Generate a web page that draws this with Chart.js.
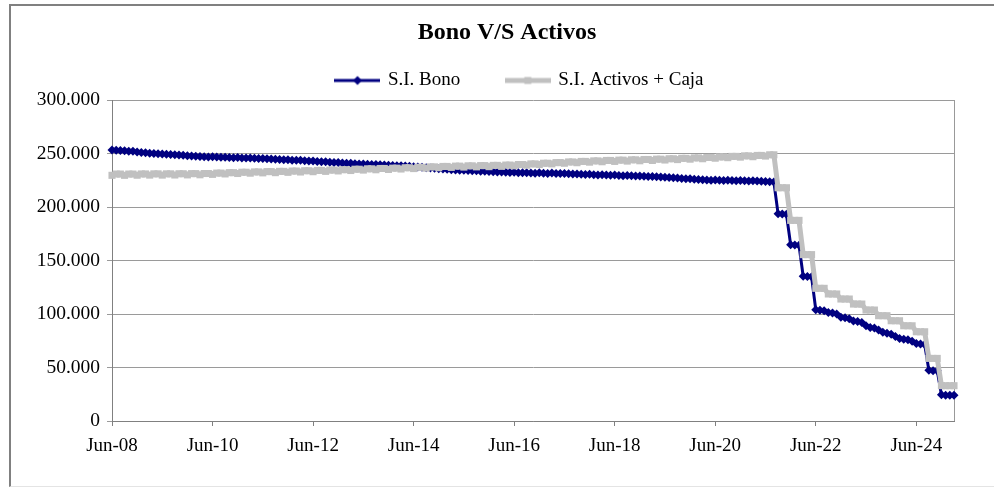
<!DOCTYPE html>
<html>
<head>
<meta charset="utf-8">
<script src="https://cdn.jsdelivr.net/npm/chart.js@4.4.1/dist/chart.umd.min.js"></script>
<style>
  html, body { margin: 0; padding: 0; background: #ffffff; overflow: hidden; }
  #wrap { position: relative; width: 994px; height: 487px; }
  #c { position: absolute; left: 0; top: 0; }
  #frame { position: absolute; left: 9px; top: 4px; width: 983px; height: 480px;
           border-left: 2px solid #808080; border-top: 2px solid #808080;
           border-bottom: 1px solid #e4e4e4; pointer-events: none; }
</style>
</head>
<body>
<div id="wrap">
  <canvas id="c" width="994" height="487"></canvas>
  <div id="frame"></div>
</div>
<script>
// ---------------- data ----------------
const TITLE = 'Bono V/S Activos';
const SERIES_NAMES = ['S.I. Bono', 'S.I. Activos + Caja'];
const TICK_LABELS = ['Jun-08', 'Jun-10', 'Jun-12', 'Jun-14', 'Jun-16', 'Jun-18', 'Jun-20', 'Jun-22', 'Jun-24'];
const Y_TICKS = [0, 50000, 100000, 150000, 200000, 250000, 300000];

// monthly categories Jun-08 .. Mar-25
const MONTH_NAMES = ['Jan','Feb','Mar','Apr','May','Jun','Jul','Aug','Sep','Oct','Nov','Dec'];
const CATEGORIES = [];
for (let y = 2008, m = 5; y < 2025 || (y === 2025 && m <= 2); ) {
  CATEGORIES.push(MONTH_NAMES[m] + '-' + String(y % 100).padStart(2, '0'));
  m++; if (m === 12) { m = 0; y++; }
}

const BONO = [
  253300,253000,252800, 252500,252200,252000, 251300,251000,250800, 250300,250000,249800,
  249600,249300,249100, 248800,248500,248300, 248000,247700,247500, 247300,247000,246800,
  247000,246700,246500, 246600,246300,246100, 246200,245900,245700, 245800,245500,245300,
  245300,245000,244800, 244700,244400,244200, 244100,243800,243600, 243600,243300,243100,
  242900,242600,242400, 242200,241900,241700, 241500,241200,241000, 240800,240500,240300,
  240300,240000,239800, 239700,239400,239200, 239100,238800,238600, 238600,238300,238100,
  237700,237400,237200, 236700,236400,236200, 235700,235400,235200, 234900,234600,234400,
  234300,234000,233800, 233800,233500,233300, 233200,232900,232700, 232700,232400,232200,
  232400,232100,231900, 232100,231800,231600, 231900,231600,231400, 231700,231400,231200,
  231300,231000,230800, 230900,230600,230400, 230500,230200,230000, 230200,229900,229700,
  229800,229500,229300, 229400,229100,228900, 229000,228700,228500, 228600,228300,228100,
  227800,227500,227300, 227000,226700,226500, 226300,226000,225800, 225500,225200,225000,
  225300,225000,224800, 225100,224800,224600, 224800,224500,224300, 224600,224300,224100,
  223800,223500,223300,
  193800,193500,193200, 164800,164500,164200, 135300,135000,134700,
  104000,103500,103000, 101500,101000,100000, 97000,96500,95500, 93500,93000,92000,
  89000,87500,87000, 85000,83000,82000, 81000,79000,77000, 76500,76000,74500,
  72500,72000,71500, 47500,47000,47000, 24500,24000,24000,24000
];

const ACTIVOS = [
  229600,230800,230800, 229600,230800,230800, 229700,230900,230900, 229800,231000,231000,
  229800,231000,231000, 229900,231100,231100, 230000,231200,231200, 230100,231300,231300,
  230500,231700,231700, 230900,232100,232100, 231300,232500,232500, 231600,232800,232800,
  231900,233100,233100, 232100,233300,233300, 232400,233600,233600, 232700,233900,233900,
  233000,234200,234200, 233300,234500,234500, 233700,234900,234900, 234100,235300,235300,
  234500,235700,235700, 234800,236000,236000, 235100,236300,236300, 235500,236700,236700,
  235900,237100,237100, 236300,237500,237500, 236700,237900,237900, 237000,238200,238200,
  237300,238500,238500, 237500,238700,238700, 237700,238900,238900, 238000,239200,239200,
  238500,239700,239700, 239100,240300,240300, 239700,240900,240900, 240300,241500,241500,
  240900,242100,242100, 241400,242600,242600, 241900,243100,243100, 242300,243500,243500,
  242600,243800,243800, 242900,244100,244100, 243200,244400,244400, 243500,244700,244700,
  243900,245100,245100, 244300,245500,245500, 244700,245900,245900, 245100,246300,246300,
  245600,246800,246800, 246100,247300,247300, 246600,247800,247800, 247000,248200,248200,
  247600,248800,248800,
  218000,218000,218000, 187500,187500,187500, 155500,155500,155500,
  124000,124000,124000, 118700,118700,118700, 114000,114000,114000, 109300,109300,109300,
  103700,103700,103700, 98400,98400,98400, 93700,93700,93700, 89000,89000,89000,
  83400,83400,83400, 58500,58500,58500, 33000,33000,33000,33000
];

// ---------------- styling ----------------
const FONT = "'Liberation Serif', 'Times New Roman', serif";
const BLUE = '#000080';
const GREY = '#C0C0C0';

function legendIcon(color, lineW, marker) {
  const cv = document.createElement('canvas');
  cv.width = 46; cv.height = 12;
  const g = cv.getContext('2d');
  g.fillStyle = color;
  g.fillRect(0, 6 - lineW / 2, 46, lineW);
  g.beginPath();
  if (marker === 'diamond') {
    g.moveTo(23, 1.5); g.lineTo(27.5, 6); g.lineTo(23, 10.5); g.lineTo(18.5, 6);
  } else {
    g.rect(19.5, 2.5, 7, 7);
  }
  g.closePath(); g.fill();
  return cv;
}
const ICONS = [legendIcon(BLUE, 3, 'diamond'), legendIcon(GREY, 5, 'square')];

const fmt = v => String(v).replace(/\B(?=(\d{3})+(?!\d))/g, '.');

const plotBorder = {
  id: 'plotBorder',
  beforeDatasetsDraw(chart) {
    const { ctx, chartArea: a } = chart;
    ctx.save();
    ctx.strokeStyle = '#999999';
    ctx.lineWidth = 1;
    ctx.beginPath();
    const x = Math.round(a.right) + 0.5;
    ctx.moveTo(x, a.top); ctx.lineTo(x, a.bottom);
    ctx.stroke();
    ctx.restore();
  }
};
const boxShift = {
  id: 'boxShift',
  afterLayout(chart) {
    if (chart.legend) { chart.legend.left -= 13; chart.legend.right -= 13; }
    if (chart.titleBlock) { chart.titleBlock.left += 30; chart.titleBlock.right += 30; }
  }
};

Chart.defaults.font.family = FONT;
Chart.defaults.color = '#000000';

new Chart(document.getElementById('c'), {
  type: 'line',
  data: {
    labels: CATEGORIES,
    datasets: [
      {
        label: SERIES_NAMES[0], data: BONO,
        borderColor: BLUE, backgroundColor: BLUE, borderWidth: 3,
        pointStyle: 'rectRot', pointRadius: 4.5, pointBackgroundColor: BLUE,
        pointBorderColor: BLUE, pointBorderWidth: 0, tension: 0, clip: false, order: 2
      },
      {
        label: SERIES_NAMES[1], data: ACTIVOS,
        borderColor: GREY, backgroundColor: GREY, borderWidth: 5,
        pointStyle: 'rect', pointRadius: 5, pointBackgroundColor: GREY,
        pointBorderColor: GREY, pointBorderWidth: 0, tension: 0, clip: false, order: 1
      }
    ]
  },
  options: {
    responsive: false,
    animation: false,
    devicePixelRatio: 1,
    layout: { padding: { left: 0, right: 40, top: 0, bottom: 0 } },
    plugins: {
      tooltip: { enabled: false },
      title: {
        display: true, text: TITLE, color: '#000',
        font: { family: FONT, size: 24, weight: 'bold' },
        padding: { top: 18.6, bottom: -22.9 }
      },
      legend: {
        display: true, position: 'top', fullSize: false,
        labels: {
          font: { family: FONT, size: 19 }, color: '#000',
          usePointStyle: true, pointStyleWidth: 42, padding: 46.5,
          generateLabels: () => SERIES_NAMES.map((t, i) => ({
            text: t, pointStyle: ICONS[i], datasetIndex: i, hidden: false,
            fontColor: '#000', lineWidth: 0, strokeStyle: 'rgba(0,0,0,0)', fillStyle: 'rgba(0,0,0,0)'
          }))
        }
      }
    },
    scales: {
      x: {
        type: 'category',
        afterFit: s => { s.height = 66; },
        ticks: {
          autoSkip: false, maxRotation: 0, minRotation: 0, padding: 9,
          font: { family: FONT, size: 19 }, color: '#000',
          callback: (v, i) => TICK_LABELS.includes(CATEGORIES[i]) ? CATEGORIES[i] : null
        },
        grid: {
          drawOnChartArea: false, drawTicks: true, tickLength: 5,
          color: c => (c.tick && c.tick.label) ? '#808080' : 'rgba(0,0,0,0)'
        },
        border: { display: true, color: '#808080', width: 1 }
      },
      y: {
        min: 0, max: 300000,
        afterFit: s => { s.width = 112; },
        afterBuildTicks: s => { s.ticks = Y_TICKS.map(v => ({ value: v })); },
        ticks: {
          padding: 7, font: { family: FONT, size: 19.5 }, color: '#000',
          callback: v => fmt(v)
        },
        grid: { color: '#9a9a9a', lineWidth: 1, tickLength: 5, drawTicks: true },
        border: { display: true, color: '#808080', width: 1 }
      }
    }
  },
  plugins: [plotBorder, boxShift]
});
</script>
</body>
</html>
